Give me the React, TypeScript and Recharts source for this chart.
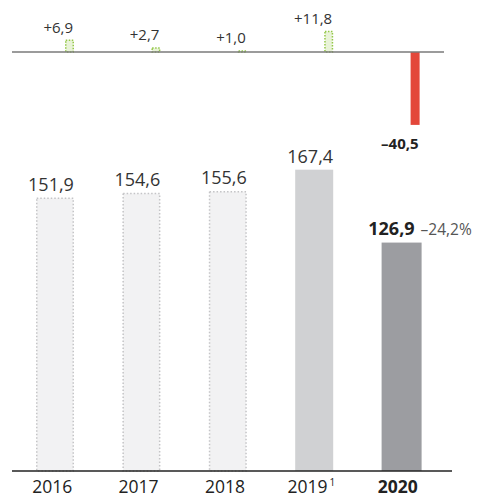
import React from 'react'
import { BarChart, Bar, XAxis, YAxis, ReferenceLine, LabelList } from 'recharts'

const years = ['2016', '2017', '2018', '2019', '2020']
const footnotes = ['', '', '', '1', '']
const revenue = [151.9, 154.6, 155.6, 167.4, 126.9]
const change = [6.9, 2.7, 1.0, 11.8, -40.5]
const pctChange: (number | null)[] = [null, null, null, null, -24.2]

const data = years.map((year, i) => ({
  year,
  note: footnotes[i],
  revenue: revenue[i],
  change: change[i],
  pct: pctChange[i],
}))

const FONT = "'Open Sans', 'DejaVu Sans', sans-serif"
const SHIFT = 14 // small delta bars sit at the right of each column

const fmt = (v: number) => v.toFixed(1).replace('.', ',')

function DeltaBar(props: any) {
  const { x, y, width, height, payload } = props
  const top = height < 0 ? y + height : y
  const h = Math.abs(height)
  const bx = x + SHIFT
  if (payload.change < 0) {
    return <rect x={bx} y={top} width={width} height={h} fill="#e3473a" />
  }
  return (
    <rect
      x={bx + 0.75}
      y={top + 0.75}
      width={width - 1.5}
      height={Math.max(h - 0.75, 0.5)}
      fill="#e9f3d8"
      stroke="#94c748"
      strokeWidth={1.5}
      strokeDasharray="1.5 1.5"
    />
  )
}

function DeltaLabel(props: any) {
  const { x, y, width, height, value } = props
  const right = x + width + SHIFT - 1
  if (value < 0) {
    const bottom = height < 0 ? y : y + height
    return (
      <text x={right} y={bottom + 24} textAnchor="end" fontSize={15} fontWeight={700} fill="#222" fontFamily={FONT}>
        {'\u2013' + fmt(-value)}
      </text>
    )
  }
  const top = height < 0 ? y + height : y
  return (
    <text x={right} y={top - 7} textAnchor="end" fontSize={15} fill="#333" fontFamily={FONT}>
      {'+' + fmt(value)}
    </text>
  )
}

function RevenueBar(props: any) {
  const { x, y, width, height, payload } = props
  if (payload.year === '2020') {
    return <rect x={x} y={y} width={width + 2} height={height} fill="#9c9da1" />
  }
  if (payload.year === '2019') {
    return <rect x={x} y={y} width={width} height={height} fill="#d0d1d3" />
  }
  return (
    <rect
      x={x + 0.75}
      y={y + 0.75}
      width={width - 1.5}
      height={height - 0.75}
      fill="#f2f2f3"
      stroke="#c4c4c6"
      strokeWidth={1.5}
      strokeDasharray="1.5 2"
    />
  )
}

function RevenueLabel(props: any) {
  const { x, y, width, value, index } = props
  const row = data[index]
  if (row.pct != null) {
    const right = x + width
    return (
      <g fontFamily={FONT}>
        <text x={right - 5} y={y - 8} textAnchor="end" fontSize={18} fontWeight={700} fill="#222">
          {fmt(value)}
        </text>
        <text x={right + 1} y={y - 8} textAnchor="start" fontSize={15.5} fill="#555">
          {'\u2013' + fmt(-row.pct) + '%'}
        </text>
      </g>
    )
  }
  return (
    <text x={x + width / 2 - 4} y={y - 7} textAnchor="middle" fontSize={18} fill="#333" fontFamily={FONT}>
      {fmt(value)}
    </text>
  )
}

function YearTick(props: any) {
  const { x, y, payload, index } = props
  const row = data[index]
  const bold = payload.value === '2020'
  return (
    <text x={x - 3} y={y} dy="0.71em" textAnchor="middle" fontSize={17.5} fontWeight={bold ? 700 : 400} fill="#222" fontFamily={FONT}>
      {payload.value}
      {row && row.note ? (
        <tspan fontSize={10} dx={2} dy={-7}>
          {row.note}
        </tspan>
      ) : null}
    </text>
  )
}

export default function App() {
  return (
    <div style={{ position: 'absolute', left: 0, top: 0, width: 483, height: 500, background: '#fff' }}>
      <div style={{ position: 'absolute', left: 0, top: 0 }}>
        <BarChart width={483} height={160} data={data} margin={{ top: 16, right: 39, bottom: 27, left: 12 }}>
          <XAxis dataKey="year" hide />
          <YAxis hide domain={[-45, 20]} />
          <ReferenceLine y={0} stroke="#7a7a7a" strokeWidth={1.5} />
          <Bar dataKey="change" barSize={9} shape={DeltaBar} isAnimationActive={false}>
            <LabelList dataKey="change" content={DeltaLabel} />
          </Bar>
        </BarChart>
      </div>
      <div style={{ position: 'absolute', left: 0, top: 140 }}>
        <BarChart width={483} height={360} data={data} margin={{ top: 7, right: 31, bottom: 0, left: 12 }}>
          <XAxis
            dataKey="year"
            height={29}
            padding={{ left: 0, right: 8 }}
            axisLine={{ stroke: '#222', strokeWidth: 1.5 }}
            tickLine={false}
            tickSize={6}
            tickMargin={4}
            tick={YearTick}
            interval={0}
          />
          <YAxis hide domain={[0, 180]} />
          <Bar dataKey="revenue" barSize={38} shape={RevenueBar} isAnimationActive={false}>
            <LabelList dataKey="revenue" content={RevenueLabel} />
          </Bar>
        </BarChart>
      </div>
    </div>
  )
}
